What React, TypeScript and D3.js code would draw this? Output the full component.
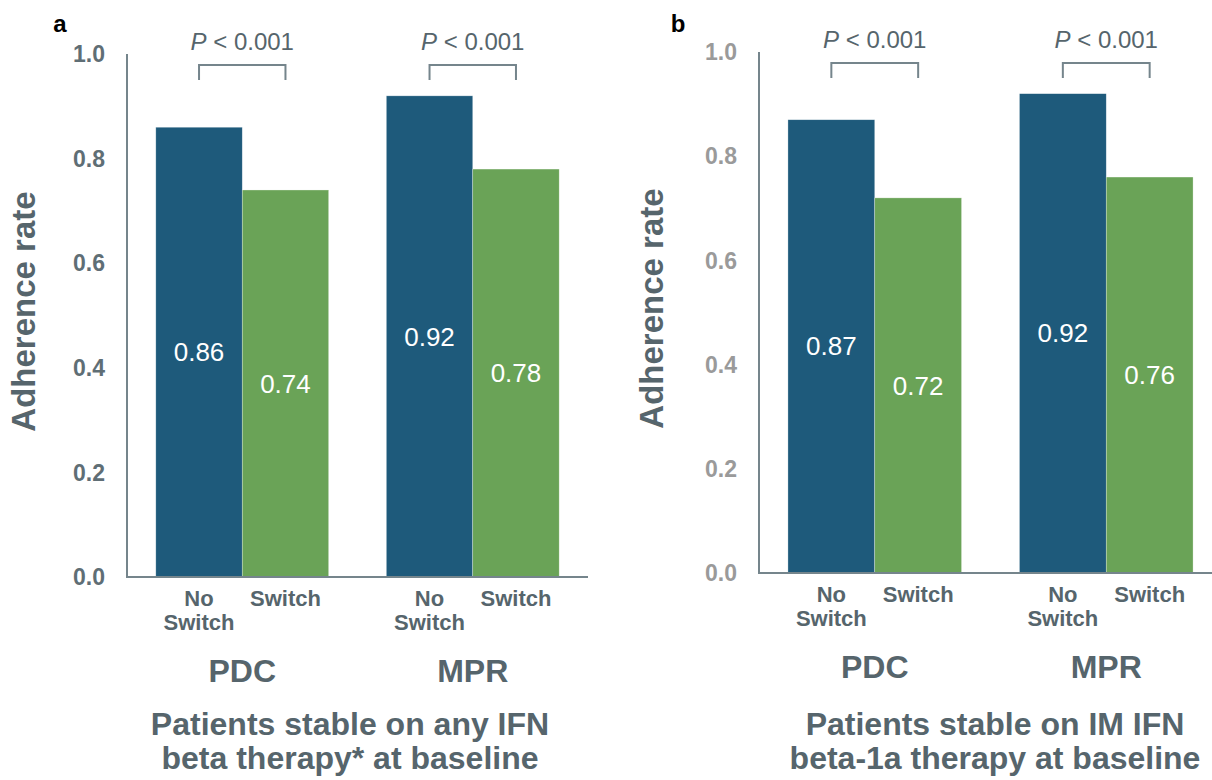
import React, { useEffect, useRef } from 'react';
import * as d3 from 'd3';

// data
const groups = ['PDC', 'MPR'];
const conditions = ['No Switch', 'Switch'];
const noSwitchA = [0.86, 0.92];
const switchA = [0.74, 0.78];
const noSwitchB = [0.87, 0.92];
const switchB = [0.72, 0.76];
const yTicks = [0, 0.2, 0.4, 0.6, 0.8, 1.0];
const pValues = ['< 0.001', '< 0.001'];
const titleA = ['Patients stable on any IFN', 'beta therapy* at baseline'];
const titleB = ['Patients stable on IM IFN', 'beta-1a therapy at baseline'];

const W = 1212;
const H = 780;
const FONT = 'Liberation Sans, Arial, Helvetica, sans-serif';
const BLUE = '#1e5a7b';
const GREEN = '#6aa357';
const TEXT = '#56656c';
const AXIS = '#75858c';

export default function App() {
  const svgRef = useRef<SVGSVGElement>(null);

  const drawPanel = (svg, opts) => {
    const { letter, letterX, x0, x1, axisEnd, yTop, yBottom, noSwitch, sw, tickColor, title, titleX, yTitleX } = opts;
    const g = svg.append('g');

    const y = d3.scaleLinear().domain([0, 1]).range([yBottom, yTop]);
    const x = d3.scaleBand().domain(groups).range([x0, x1]).paddingInner(0.25).paddingOuter(0.125);
    const xs = d3.scaleBand().domain(conditions).range([0, x.bandwidth()]);

    const rows = groups.flatMap((grp, i) => [
      { grp, cond: conditions[0], v: noSwitch[i], color: BLUE },
      { grp, cond: conditions[1], v: sw[i], color: GREEN },
    ]);

    // bars
    g.selectAll('rect.bar')
      .data(rows)
      .enter()
      .append('rect')
      .attr('class', 'bar')
      .attr('x', (d) => x(d.grp) + xs(d.cond))
      .attr('y', (d) => y(d.v))
      .attr('width', xs.bandwidth())
      .attr('height', (d) => y(0) - y(d.v))
      .attr('fill', (d) => d.color)
      .attr('stroke', '#ffffff')
      .attr('stroke-opacity', 0.5)
      .attr('stroke-width', 0.6);

    // value labels in the middle of the bar
    g.selectAll('text.val')
      .data(rows)
      .enter()
      .append('text')
      .attr('class', 'val')
      .text((d) => d.v.toFixed(2))
      .attr('x', (d) => x(d.grp) + xs(d.cond) + xs.bandwidth() / 2)
      .attr('y', (d) => (y(d.v) + y(0)) / 2)
      .attr('dy', '0.35em')
      .attr('text-anchor', 'middle')
      .attr('font-size', 26)
      .attr('fill', '#ffffff');

    // axes lines
    g.append('line')
      .attr('x1', x0).attr('x2', x0)
      .attr('y1', y(1)).attr('y2', y(0))
      .attr('stroke', AXIS).attr('stroke-width', 2);
    g.append('line')
      .attr('x1', x0 - 1).attr('x2', axisEnd)
      .attr('y1', y(0)).attr('y2', y(0))
      .attr('stroke', AXIS).attr('stroke-width', 2);

    // y tick labels
    g.selectAll('text.tick')
      .data(yTicks)
      .enter()
      .append('text')
      .attr('class', 'tick')
      .text((d) => d.toFixed(1))
      .attr('x', x0 - 22)
      .attr('y', (d) => y(d))
      .attr('dy', '0.36em')
      .attr('text-anchor', 'end')
      .attr('font-size', 23)
      .attr('font-weight', 'bold')
      .attr('fill', tickColor);

    // y title
    g.append('text')
      .text('Adherence rate')
      .attr('transform', `translate(${yTitleX},${(y(0) + y(1)) / 2 - 4}) rotate(-90)`)
      .attr('text-anchor', 'middle')
      .attr('font-size', 33)
      .attr('font-weight', 'bold')
      .attr('fill', TEXT);

    // condition labels
    rows.forEach((d) => {
      const cx = x(d.grp) + xs(d.cond) + xs.bandwidth() / 2;
      const lines = d.cond === 'No Switch' ? ['No', 'Switch'] : ['Switch'];
      const t = g.append('text')
        .attr('text-anchor', 'middle')
        .attr('font-size', 22)
        .attr('font-weight', 'bold')
        .attr('fill', TEXT);
      lines.forEach((l, i) => {
        t.append('tspan').attr('x', cx).attr('y', y(0) + 29 + i * 24).text(l);
      });
    });

    // group labels
    g.selectAll('text.grp')
      .data(groups)
      .enter()
      .append('text')
      .attr('class', 'grp')
      .text((d) => d)
      .attr('x', (d) => x(d) + x.bandwidth() / 2)
      .attr('y', y(0) + 105)
      .attr('text-anchor', 'middle')
      .attr('font-size', 32)
      .attr('font-weight', 'bold')
      .attr('fill', TEXT);

    // significance brackets
    groups.forEach((grp, i) => {
      const a = x(grp) + xs(conditions[0]) + xs.bandwidth() / 2;
      const b = x(grp) + xs(conditions[1]) + xs.bandwidth() / 2;
      const top = y(1) + 11;
      g.append('path')
        .attr('d', `M${a},${top + 15}V${top}H${b}V${top + 15}`)
        .attr('fill', 'none')
        .attr('stroke', AXIS)
        .attr('stroke-width', 2);
      const t = g.append('text')
        .attr('x', (a + b) / 2)
        .attr('y', y(1) - 4)
        .attr('text-anchor', 'middle')
        .attr('font-size', 24)
        .attr('fill', TEXT);
      t.append('tspan').attr('font-style', 'italic').text('P');
      t.append('tspan').text(' ' + pValues[i]);
    });

    // panel title
    const tt = g.append('text')
      .attr('text-anchor', 'middle')
      .attr('font-size', 32)
      .attr('font-weight', 'bold')
      .attr('fill', TEXT);
    title.forEach((l, i) => {
      tt.append('tspan').attr('x', titleX).attr('y', 735 + i * 34).text(l);
    });

    // panel letter
    g.append('text')
      .text(letter)
      .attr('x', letterX)
      .attr('y', 32)
      .attr('text-anchor', 'middle')
      .attr('font-size', 24)
      .attr('font-weight', 'bold')
      .attr('fill', '#000000');
  };

  useEffect(() => {
    const svg = d3.select(svgRef.current);
    svg.selectAll('*').remove();
    svg.attr('font-family', FONT);

    drawPanel(svg, {
      letter: 'a', letterX: 60,
      x0: 127, x1: 588, axisEnd: 588,
      yTop: 54, yBottom: 577,
      noSwitch: noSwitchA, sw: switchA,
      tickColor: '#5f6e75',
      title: titleA, titleX: 350, yTitleX: 35,
    });
    drawPanel(svg, {
      letter: 'b', letterX: 678,
      x0: 759, x1: 1222, axisEnd: 1212,
      yTop: 52, yBottom: 573,
      noSwitch: noSwitchB, sw: switchB,
      tickColor: '#9a9a9a',
      title: titleB, titleX: 995, yTitleX: 663,
    });
  }, []);

  return (
    <svg
      ref={svgRef}
      width={W}
      height={H}
      style={{ position: 'absolute', left: 0, top: 0, background: '#ffffff' }}
    ></svg>
  );
}
